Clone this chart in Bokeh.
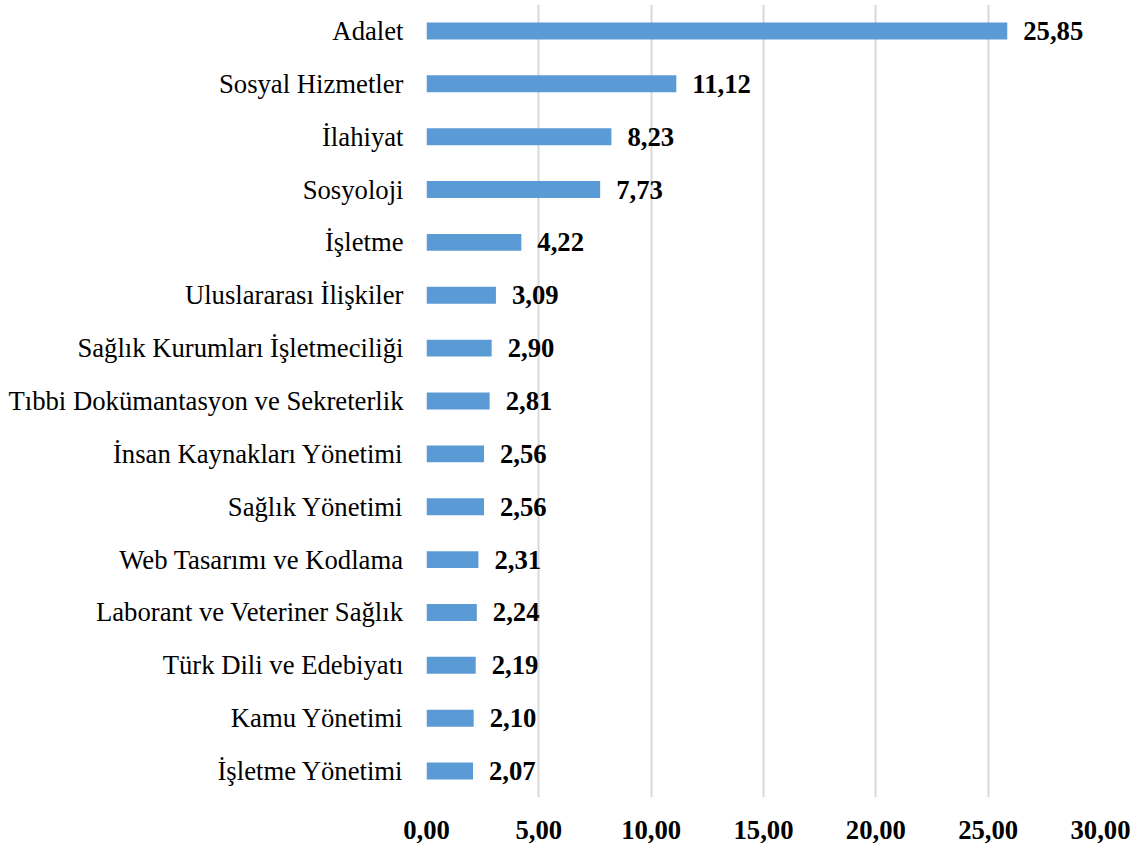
from bokeh.plotting import figure
from bokeh.models import ColumnDataSource, LabelSet, FactorRange, Range1d, FixedTicker
from bokeh.embed import file_html
from bokeh.resources import INLINE

categories = ["Adalet", "Sosyal Hizmetler", "İlahiyat", "Sosyoloji", "İşletme",
              "Uluslararası İlişkiler", "Sağlık Kurumları İşletmeciliği",
              "Tıbbi Dokümantasyon ve Sekreterlik", "İnsan Kaynakları Yönetimi",
              "Sağlık Yönetimi", "Web Tasarımı ve Kodlama",
              "Laborant ve Veteriner Sağlık", "Türk Dili ve Edebiyatı",
              "Kamu Yönetimi", "İşletme Yönetimi"]
values = [25.85, 11.12, 8.23, 7.73, 4.22, 3.09, 2.90, 2.81, 2.56, 2.56,
          2.31, 2.24, 2.19, 2.10, 2.07]
x_ticks = [0, 5, 10, 15, 20, 25, 30]

labels = [f"{v:.2f}".replace(".", ",") for v in values]
src = ColumnDataSource(dict(cat=categories, val=values, lab=labels))

FONT = "Liberation Serif"
FS = "26.7px"

p = figure(width=1136, height=846, output_backend="svg", toolbar_location=None,
           y_range=FactorRange(factors=list(reversed(categories)), range_padding=0),
           x_range=Range1d(0, 30),
           min_border_left=426, min_border_right=36, min_border_top=4,
           min_border_bottom=49)
p.outline_line_color = None
p.background_fill_color = "white"
p.border_fill_color = "white"

p.hbar(y="cat", right="val", left=0, height=0.32, source=src,
       color="#5B9BD5", line_color=None)

p.add_layout(LabelSet(x="val", y="cat", text="lab", source=src, x_offset=16,
                      text_baseline="middle", text_align="left",
                      text_font=FONT, text_font_style="bold",
                      text_font_size=FS, text_color="black"))

p.xaxis.ticker = FixedTicker(ticks=x_ticks)
p.xaxis.major_label_overrides = {t: f"{t:.2f}".replace(".", ",") for t in x_ticks}
p.xaxis.axis_line_color = None
p.xaxis.major_tick_line_color = None
p.xaxis.minor_tick_line_color = None
p.xaxis.major_label_standoff = 17
p.xaxis.major_label_text_font = FONT
p.xaxis.major_label_text_font_style = "bold"
p.xaxis.major_label_text_font_size = FS
p.xaxis.major_label_text_color = "black"

p.yaxis.axis_line_color = None
p.yaxis.major_tick_line_color = None
p.yaxis.minor_tick_line_color = None
p.yaxis.major_label_standoff = 17
p.yaxis.major_label_text_font = FONT
p.yaxis.major_label_text_font_size = FS
p.yaxis.major_label_text_color = "black"

p.xgrid.grid_line_color = "#D9D9D9"
p.xgrid.grid_line_width = 2
p.ygrid.grid_line_color = None

open("out.html", "w").write(file_html(p, INLINE))
